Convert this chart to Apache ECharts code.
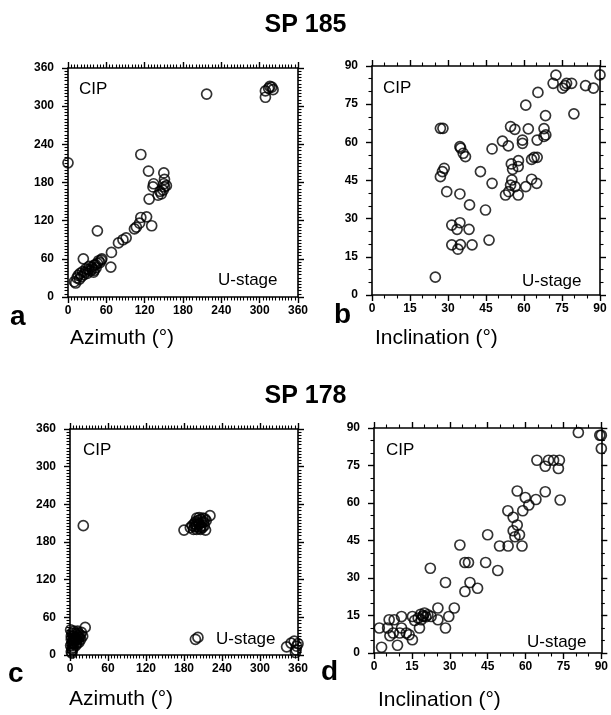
<!DOCTYPE html>
<html lang="en">
    <head>
        <meta charset="UTF-8">
        <title>SP 185 / SP 178</title>
        <script src="https://cdn.jsdelivr.net/npm/echarts@6/dist/echarts.min.js"></script>
        <style type="text/css">
            body { margin: 0; background: #fff; }
            #main { width: 611px; height: 715px; }
        </style>
    </head>
    <body>
        <div id="main"></div>
    </body>

    <script type="text/javascript">
        // 每个点: [U-stage, CIP]
        var azimuth185 = [
            [10,24],[12,22],[14,30],[16,34],[18,28],[19,37],[21,32],[23,40],[24,60],[25,35],
            [27,39],[28,44],[30,37],[32,43],[33,48],[35,41],[37,47],[38,44],[40,39],[41,50],
            [43,51],[44,46],[46,53],[46,104],[48,57],[50,54],[52,58],[53,60],[41,42],
            [67,47],[68,70],[79,85],[86,90],[91,93],[104,107],[107,110],[112,116],[114,125],
            [123,126],[131,112],[127,154],[126,198],[114,224],[133,173],[134,178],[141,160],
            [144,166],[146,162],[149,168],[151,173],[154,175],[150,195],[151,185],[150,178],
            [0,211],[217,319],[309,314],[309,324],[314,328],[319,330],[321,326],[316,331]
        ];
        var inclination185 = [
            [25,7],[27,65.5],[28,65.5],[27,46.5],[27.8,48.5],[28.5,49.8],[29.5,40.6],[31.5,27.5],
            [31.5,19.7],[33.6,25.8],[34.7,28.4],[33.9,18],[34.9,19.8],[34.7,39.7],[34.7,58.3],
            [35,57.7],[36,55.7],[36.9,54.4],[38.5,35.4],[38.3,25.8],[39.5,19.7],[42.8,48.5],
            [44.8,33.4],[46.2,21.6],[47.4,43.9],[47.4,57.4],[51.5,60.5],[53.8,58.6],[52.7,39.3],
            [54,40.6],[54.7,43.2],[55.2,45.2],[55.5,49.4],[55,51.5],[54.7,66.2],[56.4,65.1],
            [56.5,42.6],[57.7,39.3],[57.7,50.5],[57.8,52.8],[59.4,60.9],[59.4,59.6],[60.7,74.6],
            [60.7,42.6],[61.7,65.3],[63,45.5],[63,53.3],[64,54.1],[65,43.9],[65.2,54.1],
            [65.2,60.9],[65.5,79.6],[67.9,65.4],[68.6,62.9],[68.5,70.5],[67.9,62.3],[72.6,86.4],
            [71.5,83.2],[75.2,81.3],[76.2,82.3],[76.8,83.2],[78.8,83.2],[79.7,71.2],[84.3,82.3],
            [87.4,81.3],[90,86.5]
        ];
        var azimuth178 = [
            [2,5],[3,10],[1,15],[4,20],[2,25],[5,30],[3,35],[6,38],[8,28],[10,33],[7,22],[9,15],
            [11,25],[12,30],[13,35],[14,20],[15,28],[16,32],[18,36],[5,12],[4,8],[6,18],[8,35],
            [10,20],[12,38],[17,25],[20,30],[24,44],[1,40],[2,30],[3,3],[7,27],[9,24],[14,27],
            [5,24],[11,18],[3,18],
            [21,206],
            [180,199],[221,222],[214,199],[190,203],[193,206],[196,209],[198,212],[200,205],
            [202,214],[204,208],[206,216],[208,211],[210,218],[212,206],[205,202],[195,200],
            [200,200],[215,214],[200,218],[209,203],[203,210],[207,205],[197,204],[211,212],
            [213,217],[204,219],[199,208],[206,200],
            [198,25],[202,28],
            [342,13],[349,19],[354,22],[357,8],[358,14],[360,18],[356,4]
        ];
        var inclination178 = [
            [2.1,10],[3,2.3],[5.4,10],[6,13.3],[8,13.3],[6.3,6.9],[7.6,8],[9.3,3.1],[10.9,14.6],
            [10.9,10],[10.2,8],[12.8,8],[13.9,7.3],[15.2,5.3],[15.2,14.6],[16.1,13],[18,10],
            [18.7,13.3],[19.4,14.6],[20,16],[21.3,15.3],[22.6,14.6],[17.5,14],[18.5,15.5],
            [19.5,15],[20.5,14.5],[22.3,33.9],[25.3,13.3],[25.3,18],[28.3,10],[29.6,14.6],
            [31.8,18],[28.3,28.2],[34,43.2],[36,36.2],[37.4,36.2],[36,24.6],[38,28.2],[41,25.9],
            [44.2,36.2],[45,47.3],[49,33],[49.7,42.8],[53.1,42.8],[53,56.9],[55.1,54.3],
            [56.7,51.2],[55.1,48.9],[55.8,46.5],[57.6,47.3],[58.6,42.8],[56.7,64.8],[58.9,56.9],
            [59.9,62.2],[61.3,59.2],[64.1,61.4],[67.8,64.5],[64.5,77.1],[67.8,74.7],[69.1,77.1],
            [71.1,77.1],[73.4,77.1],[73,73.8],[73.7,61.2],[80.9,88.2],[89.4,87.1],[90,87.1],
            [90,81.8]
        ];

        var azTicks = { max: 360, interval: 60, minor: 12 };
        var incTicks = { max: 90, interval: 15, minor: 3 };

        var panels = [
            { grid: { left: 68, top: 68, width: 230, height: 229 }, ticks: azTicks, data: azimuth185 },
            { grid: { left: 372, top: 66, width: 228, height: 229 }, ticks: incTicks, data: inclination185 },
            { grid: { left: 70, top: 429, width: 228, height: 226 }, ticks: azTicks, data: azimuth178 },
            { grid: { left: 374, top: 428, width: 229, height: 225 }, ticks: incTicks, data: inclination178 }
        ];

        function makeAxis(t, gi, pos, labels) {
            return {
                type: 'value', gridIndex: gi, position: pos,
                min: 0, max: t.max, interval: t.interval,
                splitLine: { show: false },
                axisLine: { onZero: false, lineStyle: { color: '#000', width: 1.6 } },
                axisTick: { show: true, length: 6, lineStyle: { color: '#000', width: 1.4 } },
                minorTick: { show: true, splitNumber: t.minor, length: 3.5, lineStyle: { color: '#000', width: 1.1 } },
                axisLabel: {
                    show: labels, color: '#000', fontSize: 12, fontWeight: 'bold',
                    fontFamily: 'Liberation Sans', margin: (pos === 'left' ? 14 : 8)
                }
            };
        }

        var grids = [], xAxes = [], yAxes = [], series = [];
        panels.forEach(function (p, i) {
            grids.push(p.grid);
            xAxes.push(makeAxis(p.ticks, i, 'bottom', true));
            xAxes.push(makeAxis(p.ticks, i, 'top', false));
            yAxes.push(makeAxis(p.ticks, i, 'left', true));
            yAxes.push(makeAxis(p.ticks, i, 'right', false));
            series.push({
                type: 'scatter', xAxisIndex: i * 2, yAxisIndex: i * 2,
                symbol: 'circle', symbolSize: 10,
                itemStyle: { color: 'transparent', borderColor: '#000', borderWidth: 1.7 },
                data: p.data
            });
        });

        function txt(s, x, y, font) {
            return { type: 'text', left: x, top: y, style: { text: s, font: font, fill: '#000' } };
        }
        var nameFont = '21px "Liberation Sans"';
        var letterFont = 'bold 28px "Liberation Sans"';
        var insideFont = '17px "Liberation Sans"';

        var myChart = echarts.init(document.getElementById('main'));
        myChart.setOption({
            animation: false,
            backgroundColor: '#fff',
            title: [
                { text: 'SP 185', left: 'center', top: 8, textStyle: { fontSize: 25, fontWeight: 'bold', fontFamily: 'Liberation Sans', color: '#000' } },
                { text: 'SP 178', left: 'center', top: 379, textStyle: { fontSize: 25, fontWeight: 'bold', fontFamily: 'Liberation Sans', color: '#000' } }
            ],
            grid: grids,
            xAxis: xAxes,
            yAxis: yAxes,
            series: series,
            graphic: [
                txt('CIP', 79, 81, insideFont), txt('U-stage', 218, 272, insideFont),
                txt('CIP', 383, 80, insideFont), txt('U-stage', 522, 273, insideFont),
                txt('CIP', 83, 442, insideFont), txt('U-stage', 216, 631, insideFont),
                txt('CIP', 386, 442, insideFont), txt('U-stage', 527, 634, insideFont),
                txt('Azimuth (°)', 70, 328, nameFont), txt('Inclination (°)', 375, 328, nameFont),
                txt('Azimuth (°)', 69, 689, nameFont), txt('Inclination (°)', 378, 690, nameFont),
                txt('a', 10, 303, letterFont), txt('b', 334, 301, letterFont),
                txt('c', 8, 660, letterFont), txt('d', 321, 658, letterFont)
            ]
        });
    </script>
</html>
